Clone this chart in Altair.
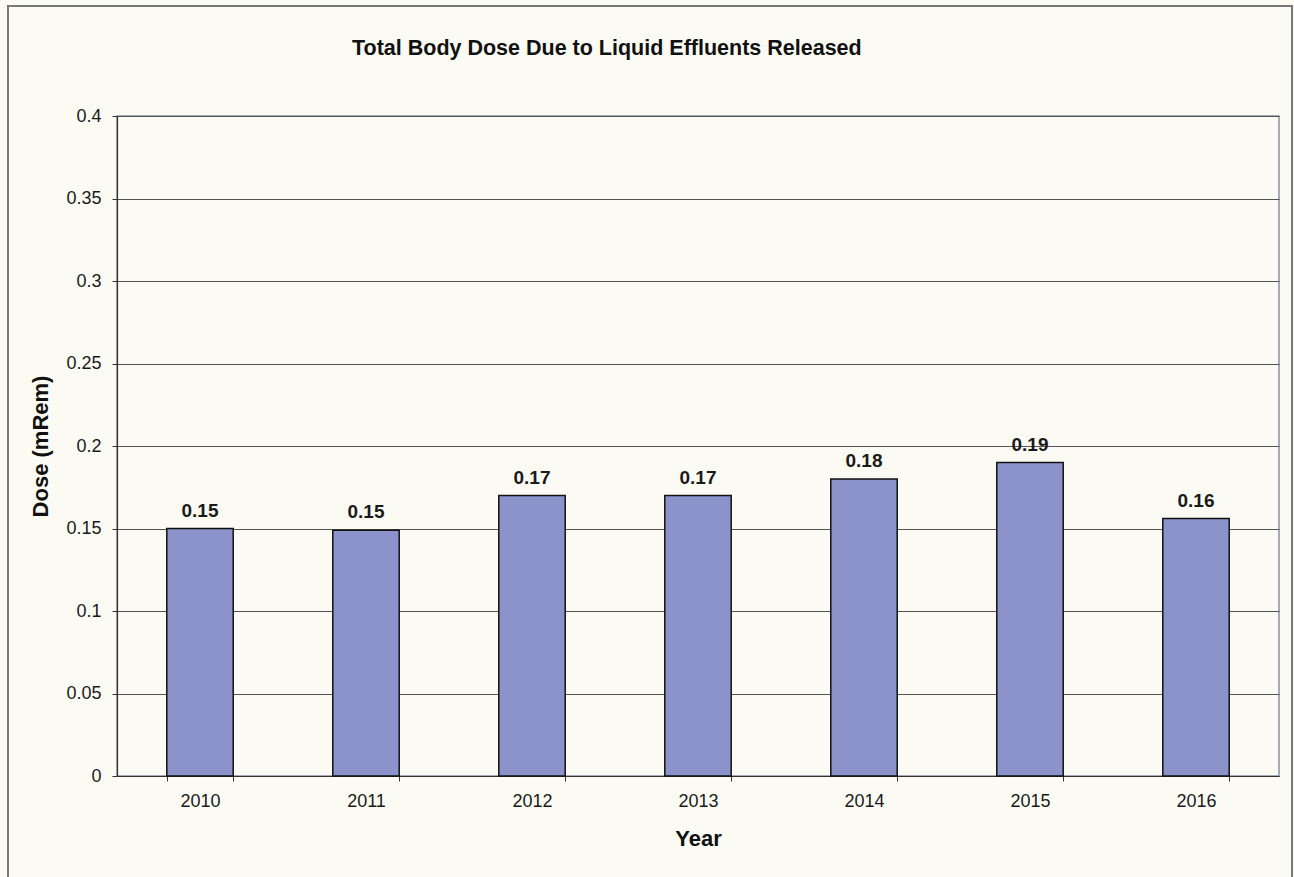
import altair as alt
import pandas as pd

# Annual total body dose from liquid effluents
years = ["2010", "2011", "2012", "2013", "2014", "2015", "2016"]
dose = [0.15, 0.149, 0.17, 0.17, 0.18, 0.19, 0.156]
y_ticks = [0, 0.05, 0.1, 0.15, 0.2, 0.25, 0.3, 0.35, 0.4]

df = pd.DataFrame({"Year": years, "Dose": dose})

FONT = "Liberation Sans"
BAR_FILL = "#8c93cb"
BG = "#fcfbf3"

x_enc = alt.X(
    "Year:N",
    sort=years,
    scale=alt.Scale(paddingInner=0.6, paddingOuter=0.3),
    axis=alt.Axis(
        title="Year",
        titleFont=FONT,
        titleFontSize=22,
        titleFontWeight="bold",
        titleColor="#111111",
        titleBaseline="alphabetic",
        titleY=69,
        labelAngle=0,
        labelFont=FONT,
        labelFontSize=18,
        labelColor="#1a1a1a",
        labelBaseline="alphabetic",
        labelPadding=25,
        tickSize=5,
        tickBand="extent",
        tickColor="#333333",
        domainColor="#333333",
        domainWidth=1.2,
        grid=False,
    ),
)

y_enc = alt.Y(
    "Dose:Q",
    scale=alt.Scale(domain=[0, 0.4], nice=False),
    axis=alt.Axis(
        title="Dose (mRem)",
        titleFont=FONT,
        titleFontSize=22,
        titleFontWeight="bold",
        titleColor="#111111",
        titleAngle=270,
        titleAlign="center",
        titleBaseline="middle",
        titleX=-77,
        titleY=330,
        values=y_ticks,
        format="~g",
        labelFont=FONT,
        labelFontSize=18,
        labelColor="#1a1a1a",
        labelPadding=11,
        tickSize=5,
        tickColor="#333333",
        domainColor="#333333",
        domainWidth=1.2,
        grid=True,
        gridColor="#555555",
        gridWidth=1,
    ),
)

bars = alt.Chart(df).mark_bar(
    fill=BAR_FILL, stroke="#111111", strokeWidth=1.5
).encode(x=x_enc, y=y_enc)

labels = alt.Chart(df).mark_text(
    font=FONT,
    fontSize=19,
    fontWeight="bold",
    color="#1a1a1a",
    baseline="bottom",
    dy=-8,
).encode(
    x=alt.X("Year:N", sort=years),
    y=alt.Y("Dose:Q"),
    text=alt.Text("Dose:Q", format=".2f"),
)

# Outer frame around the whole chart (its top edge sits 110px above the plot)
frame = alt.Chart(df).mark_rect(
    fill=None, stroke="#7a7a7a", strokeWidth=1.5, clip=False
).encode(
    x=alt.value(-109),
    x2=alt.value(1175),
    y=alt.value(-110),
    y2=alt.value(770),
)

chart = (
    alt.layer(frame, bars, labels)
    .properties(
        width=1162,
        height=660,
        autosize=alt.AutoSizeParams(type="none"),
        padding={"left": 117, "top": 116, "right": 15, "bottom": 101},
        background=BG,
        title=alt.TitleParams(
            "Total Body Dose Due to Liquid Effluents Released",
            font=FONT,
            fontSize=21.5,
            fontWeight="bold",
            color="#111111",
            anchor="start",
            frame="group",
            dx=235,
            baseline="alphabetic",
            # measured from the frame's top edge, so the title sits inside it
            offset=-71,
        ),
    )
    .configure_view(stroke="#8591a4", strokeWidth=1.5)
)

chart.save("out.html", embed_options={"renderer": "svg", "actions": False})
